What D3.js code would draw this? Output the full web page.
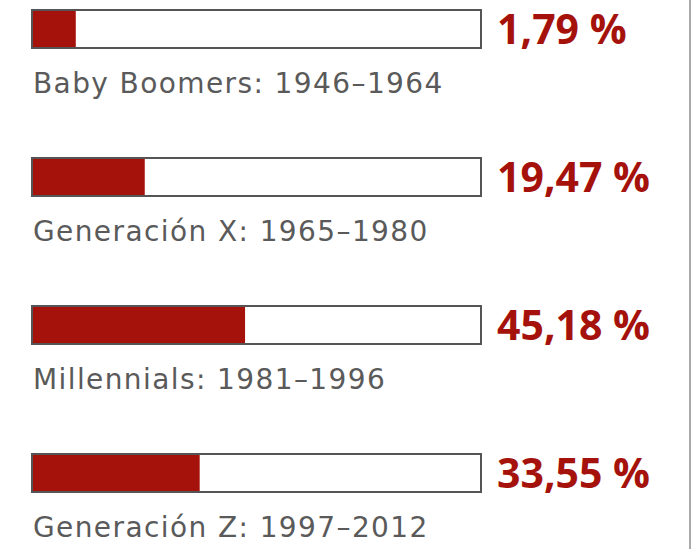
<!DOCTYPE html>
<html lang="es">
<head>
  <meta charset="utf-8">
  <title>Generaciones</title>
  <script src="https://d3js.org/d3.v7.min.js"></script>
  <style>
    body { margin: 0; background: #fff; }
  </style>
</head>
<body>
<script>
  // datos
  var generaciones = ["Baby Boomers", "Generación X", "Millennials", "Generación Z"];
  var periodos = ["1946–1964", "1965–1980", "1981–1996", "1997–2012"];
  var porcentajes = [1.79, 19.47, 45.18, 33.55];

  var width = 697, height = 549;
  var rojo = "#a5120c";

  var svg = d3.select("body").append("svg")
      .attr("width", width)
      .attr("height", height);

  var y = d3.scaleBand()
      .domain(generaciones)
      .range([9, 9 + 148 * 4]);

  // relleno de la barra
  var x = d3.scaleLinear()
      .domain([0, 100])
      .range([68.8, 458.9]);

  var fmt = function(v) { return d3.format(".2f")(v).replace(".", ",") + " %"; };

  var filas = svg.selectAll("g.fila")
      .data(generaciones)
      .enter().append("g")
      .attr("class", "fila")
      .attr("transform", function(d) { return "translate(0," + y(d) + ")"; });

  filas.append("rect")
      .attr("x", 32)
      .attr("y", 1)
      .attr("width", 449)
      .attr("height", 38)
      .attr("fill", "#fff")
      .attr("stroke", "#555")
      .attr("stroke-width", 2);

  filas.append("rect")
      .attr("x", 33)
      .attr("y", 2)
      .attr("width", function(d, i) { return x(porcentajes[i]) - 33; })
      .attr("height", 36)
      .attr("fill", rojo);

  filas.append("text")
      .attr("x", 497)
      .attr("y", 35)
      .attr("fill", rojo)
      .style("font-family", "'Open Sans', sans-serif")
      .style("font-weight", "bold")
      .style("font-size", "41px")
      .text(function(d, i) { return fmt(porcentajes[i]); });

  filas.append("text")
      .attr("x", 33)
      .attr("y", 84)
      .attr("fill", "#5a5a5a")
      .style("font-family", "'DejaVu Sans', sans-serif")
      .style("font-size", "28px")
      .style("letter-spacing", "1.4px")
      .text(function(d, i) { return d + ": " + periodos[i]; });

  // linea del borde derecho
  svg.append("line")
      .attr("x1", 690).attr("x2", 690)
      .attr("y1", 0).attr("y2", height)
      .attr("stroke", "#aaa")
      .attr("stroke-width", 2);
</script>
</body>
</html>
